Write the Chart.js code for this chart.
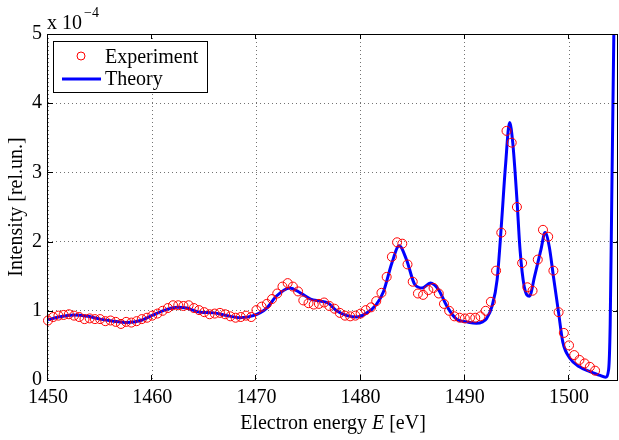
<!DOCTYPE html>
<html>
<head>
<meta charset="utf-8">
<script src="https://cdn.jsdelivr.net/npm/chart.js@4.4.0/dist/chart.umd.min.js"></script>
<style>
  body { margin: 0; background: #fff; }
  canvas { display: block; }
</style>
</head>
<body>
<canvas id="grafico" width="619" height="440"></canvas>
<script>
// DATOS (intensidad en unidades de 1e-4)

const expEnergia = [
  1450, 1450.5, 1451, 1451.5, 1452, 1452.5, 1453, 1453.5, 1454, 1454.5,
  1455, 1455.5, 1456, 1456.5, 1457, 1457.5, 1458, 1458.5, 1459, 1459.5,
  1460, 1460.5, 1461, 1461.5, 1462, 1462.5, 1463, 1463.5, 1464, 1464.5,
  1465, 1465.5, 1466, 1466.5, 1467, 1467.5, 1468, 1468.5, 1469, 1469.5,
  1470, 1470.5, 1471, 1471.5, 1472, 1472.5, 1473, 1473.5, 1474, 1474.5,
  1475, 1475.5, 1476, 1476.5, 1477, 1477.5, 1478, 1478.5, 1479, 1479.5,
  1480, 1480.5, 1481, 1481.5, 1482, 1482.5, 1483, 1483.5, 1484, 1484.5,
  1485, 1485.5, 1486, 1486.5, 1487, 1487.5, 1488, 1488.5, 1489, 1489.5,
  1490, 1490.5, 1491, 1491.5, 1492, 1492.5, 1493, 1493.5, 1494, 1494.5,
  1495, 1495.5, 1496, 1496.5, 1497, 1497.5, 1498, 1498.5, 1499, 1499.5,
  1500, 1500.5, 1501, 1501.5, 1502, 1502.5
]
const expIntensidad = [
  0.86, 0.91, 0.93, 0.94, 0.95, 0.93, 0.91, 0.88, 0.89, 0.88,
  0.88, 0.85, 0.86, 0.84, 0.81, 0.84, 0.83, 0.85, 0.88, 0.90,
  0.93, 0.96, 1.00, 1.04, 1.08, 1.08, 1.07, 1.08, 1.04, 1.01,
  0.98, 0.95, 0.96, 0.97, 0.95, 0.92, 0.90, 0.91, 0.93, 0.91,
  1.01, 1.06, 1.10, 1.17, 1.25, 1.35, 1.40, 1.35, 1.28, 1.15,
  1.11, 1.09, 1.10, 1.12, 1.07, 1.03, 0.97, 0.93, 0.92, 0.93,
  0.96, 1.01, 1.05, 1.14, 1.26, 1.49, 1.78, 1.99, 1.97, 1.67,
  1.42, 1.25, 1.23, 1.30, 1.33, 1.25, 1.10, 1.00, 0.92, 0.90,
  0.89, 0.90, 0.90, 0.92, 1.00, 1.13, 1.58, 2.13, 3.60, 3.43,
  2.50, 1.69, 1.34, 1.29, 1.74, 2.17, 2.07, 1.58, 0.98, 0.68,
  0.50, 0.36, 0.29, 0.24, 0.19, 0.135
]

const teoEnergia = [
  1450, 1451, 1452.5, 1453.8, 1455, 1456.3, 1457.6, 1458.9, 1460.1, 1461.4,
  1462.4, 1463.3, 1464.6, 1465.9, 1467.2, 1468.4, 1469.7, 1471, 1471.9, 1473.2,
  1474.2, 1475.2, 1476.1, 1476.9, 1477.7, 1478.7, 1479.6, 1480.6, 1481.5, 1482.2,
  1483, 1483.7, 1484.4, 1485.2, 1485.9, 1486.7, 1487.5, 1488.3, 1489.2, 1490.2,
  1491.1, 1491.7, 1492.1, 1492.6, 1493.1, 1493.5, 1493.9, 1494.3, 1494.6, 1495,
  1495.3, 1495.7, 1496.2, 1496.7, 1497.3, 1497.7, 1498.1, 1498.5, 1499, 1499.4,
  1500.1, 1501, 1502, 1502.9, 1503.5, 1503.8, 1503.95, 1504.1, 1504.3, 1504.45
]
const teoIntensidad = [
  0.87, 0.91, 0.94, 0.92, 0.88, 0.85, 0.83, 0.86, 0.94, 1.02,
  1.05, 1.04, 0.98, 0.97, 0.93, 0.90, 0.93, 1.04, 1.21, 1.33,
  1.26, 1.17, 1.14, 1.11, 1.00, 0.93, 0.91, 0.97, 1.09, 1.28,
  1.69, 1.94, 1.74, 1.38, 1.33, 1.40, 1.30, 1.06, 0.88, 0.84,
  0.82, 0.84, 0.89, 1.06, 1.45, 2.22, 3.09, 3.72, 3.43, 2.61,
  1.88, 1.35, 1.21, 1.50, 1.88, 2.13, 1.93, 1.50, 0.97, 0.55,
  0.31, 0.19, 0.12, 0.07, 0.04, 0.15, 0.80, 2.60, 5.00, 6.50
]

const ticksX = [1450, 1460, 1470, 1480, 1490, 1500]
const ticksY = [0, 1, 2, 3, 4, 5]

const fuente = '"Liberation Serif", "Times New Roman", serif'

// marco, marcas, leyenda y textos al estilo matlab
const marco = {
  id: 'marco',
  afterDraw(chart) {
    const { ctx, chartArea: a, scales: { x, y } } = chart
    ctx.save()
    ctx.strokeStyle = '#000'
    ctx.lineWidth = 1
    ctx.strokeRect(a.left - 0.5, a.top + 0.5, a.right - a.left, a.bottom - a.top)

    const linea = (x1, y1, x2, y2) => {
      ctx.beginPath(); ctx.moveTo(x1, y1); ctx.lineTo(x2, y2); ctx.stroke()
    }
    ticksX.forEach(v => {
      const px = Math.round(x.getPixelForValue(v)) - 0.5
      linea(px, a.bottom, px, a.bottom - 5)
      linea(px, a.top, px, a.top + 5)
    })
    ticksY.forEach(v => {
      const py = Math.round(y.getPixelForValue(v)) + 0.5
      linea(a.left, py, a.left + 5, py)
      linea(a.right, py, a.right - 5, py)
    })

    // leyenda
    ctx.fillStyle = '#fff'
    ctx.fillRect(53.5, 41.5, 154, 51)
    ctx.strokeRect(53.5, 41.5, 154, 51)
    ctx.strokeStyle = '#ff0000'
    ctx.beginPath(); ctx.arc(81, 56, 4, 0, Math.PI * 2); ctx.stroke()
    ctx.strokeStyle = '#0000ff'
    ctx.lineWidth = 3
    linea(62, 79, 101, 79)
    ctx.fillStyle = '#000'
    ctx.font = '20px ' + fuente
    ctx.textBaseline = 'alphabetic'
    ctx.textAlign = 'left'
    ctx.fillText('Experiment', 105, 63)
    ctx.fillText('Theory', 105, 85)

    // multiplicador del eje y
    ctx.fillText('x 10', 47, 29)
    ctx.font = '14px ' + fuente
    ctx.fillText('\u22124', 84, 17)

    // titulo del eje x con la E en cursiva
    const partes = [['Electron energy ', ''], ['E', 'italic '], [' [eV]', '']]
    let ancho = 0
    partes.forEach(p => { ctx.font = p[1] + '20px ' + fuente; ancho += ctx.measureText(p[0]).width })
    let cx = (a.left + a.right) / 2 - ancho / 2
    partes.forEach(p => {
      ctx.font = p[1] + '20px ' + fuente
      ctx.fillText(p[0], cx, 429)
      cx += ctx.measureText(p[0]).width
    })
    ctx.restore()
  }
}

// sin relleno extra de chart.js alrededor de las escalas
const sinRelleno = s => { s.paddingLeft = 0; s.paddingRight = 0; s.paddingTop = 0; s.paddingBottom = 0 }

const ctx = document.getElementById('grafico').getContext('2d')
const grafico = new Chart(ctx, {
  type: 'scatter',
  data: {
    datasets: [
      {
        label: 'Experiment',
        data: expEnergia.map((e, i) => ({ x: e, y: expIntensidad[i] })),
        showLine: false,
        pointStyle: 'circle',
        pointRadius: 4.5,
        pointBorderWidth: 1,
        borderColor: '#ff0000',
        backgroundColor: 'rgba(0,0,0,0)',
        clip: 8
      },
      {
        label: 'Theory',
        data: teoEnergia.map((e, i) => ({ x: e, y: teoIntensidad[i] })),
        showLine: true,
        pointRadius: 0,
        borderColor: '#0000ff',
        borderWidth: 3,
        cubicInterpolationMode: 'monotone',
        clip: 0
      }
    ]
  },
  options: {
    responsive: false,
    animation: false,
    devicePixelRatio: 1,
    layout: { autoPadding: false, padding: { top: 34, right: 1, left: 0, bottom: 0 } },
    plugins: { legend: { display: false }, tooltip: { enabled: false } },
    scales: {
      x: {
        type: 'linear',
        min: 1450,
        max: 1504.7,
        afterBuildTicks: s => { s.ticks = ticksX.map(v => ({ value: v })) },
        afterFit: s => { s.height = 60; sinRelleno(s) },
        grid: { color: 'rgba(0,0,0,0.55)', drawTicks: false },
        border: { display: false, dash: [1, 3] },
        ticks: {
          color: '#000', font: { family: fuente, size: 20 }, padding: 6, maxRotation: 0,
          callback: v => String(v)
        }
      },
      y: {
        type: 'linear',
        min: 0,
        max: 5,
        afterBuildTicks: s => { s.ticks = ticksY.map(v => ({ value: v })) },
        afterFit: s => { s.width = 48; sinRelleno(s) },
        grid: { color: 'rgba(0,0,0,0.55)', drawTicks: false },
        border: { display: false, dash: [1, 3] },
        ticks: { color: '#000', font: { family: fuente, size: 20 }, padding: 6, callback: v => String(v) },
        title: {
          display: true,
          text: 'Intensity [rel.un.]',
          color: '#000',
          font: { family: fuente, size: 20 },
          padding: { top: 5, bottom: 0 }
        }
      }
    }
  },
  plugins: [marco]
})
</script>
</body>
</html>
